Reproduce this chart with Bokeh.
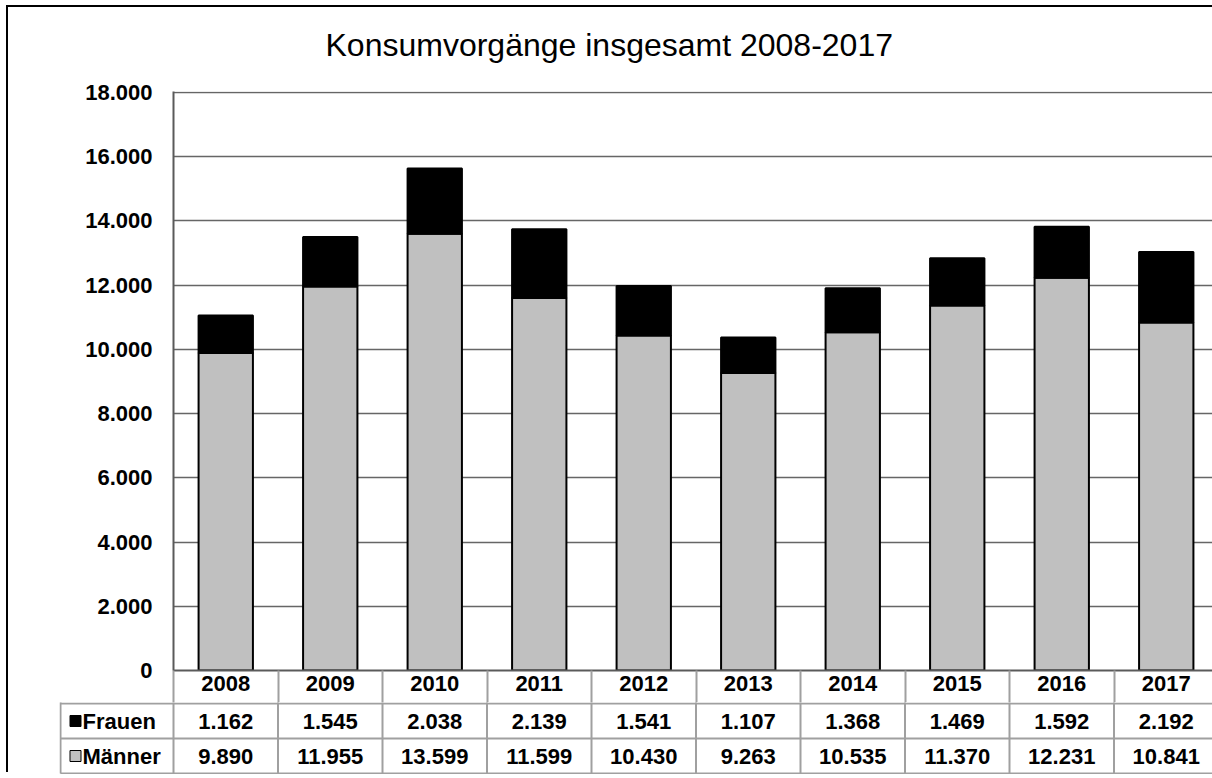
from bokeh.plotting import figure
from bokeh.models import Range1d, FixedTicker, ColumnDataSource
from bokeh.layouts import column
from bokeh.embed import file_html
from bokeh.resources import INLINE
from bokeh.core.properties import value

# ---------------- data ----------------
years = ["2008", "2009", "2010", "2011", "2012", "2013", "2014", "2015", "2016", "2017"]
frauen = [1162, 1545, 2038, 2139, 1541, 1107, 1368, 1469, 1592, 2192]
maenner = [9890, 11955, 13599, 11599, 10430, 9263, 10535, 11370, 12231, 10841]
y_ticks = [0, 2000, 4000, 6000, 8000, 10000, 12000, 14000, 16000, 18000]
y_tick_labels = ["0", "2.000", "4.000", "6.000", "8.000", "10.000", "12.000",
                 "14.000", "16.000", "18.000"]
row_labels = ["Frauen", "Männer"]
title_text = "Konsumvorgänge insgesamt 2008-2017"


def de_fmt(v):
    return f"{v:,}".replace(",", ".")


# ---------------- layout constants (content px, origin = inside chart border) ----------------
FONT = "Liberation Sans"
W = 1207            # content width (the chart continues past the window's right edge)
LEFT = 165          # plot frame left
TOP = 84            # plot frame top
PLOT_H = 579        # frame height (18000 span = 578 px)
HEAD_H = 32         # header (year) row height below the plot
COL_W = 104.5       # width of one category column in px
GRID_C = "#a0a0a0"
x_end = (W - LEFT) / COL_W
unit_per_px = 18000 / 578.0
n = len(years)

p = figure(width=W, height=TOP + PLOT_H + HEAD_H,
           x_range=Range1d(0, x_end),
           y_range=Range1d(0, 18000 + unit_per_px),
           output_backend="svg", toolbar_location=None,
           min_border_left=LEFT, min_border_top=TOP,
           min_border_right=0, min_border_bottom=HEAD_H)
p.frame_align = False
p.outline_line_color = None
p.background_fill_color = "white"
p.border_fill_color = None

p.title.text = title_text
p.title.text_font = FONT
p.title.text_font_size = "32px"
p.title.text_font_style = "normal"
p.title.text_color = "black"
p.title.align = "left"
p.title.offset = 325 - 8 - LEFT
p.title.standoff = 34
p.title.padding = (0, 0, 0, 12)

ax = p.yaxis[0]
ax.ticker = FixedTicker(ticks=y_ticks)
ax.major_label_overrides = {t: l for t, l in zip(y_ticks, y_tick_labels)}
ax.axis_line_color = "#5a5a5a"
ax.axis_line_width = 2
ax.major_tick_line_color = None
ax.minor_tick_line_color = None
ax.major_label_standoff = 15
ax.major_label_text_font = FONT
ax.major_label_text_font_size = "22px"
ax.major_label_text_font_style = "bold"
ax.major_label_text_color = "black"

# x axis = header row of the data table (years); minor ticks form the cell borders
xa = p.xaxis[0]
xs = [i + 0.5 for i in range(n)]
xa.ticker = FixedTicker(ticks=xs, minor_ticks=list(range(n)))
xa.major_label_overrides = {x: y for x, y in zip(xs, years)}
xa.axis_line_color = "#5a5a5a"
xa.axis_line_width = 2
xa.major_tick_line_color = None
xa.major_tick_out = 0
xa.major_tick_in = 0
xa.minor_tick_line_color = GRID_C
xa.minor_tick_line_width = 2
xa.minor_tick_out = HEAD_H
xa.minor_tick_in = 0
xa.major_label_standoff = 5 - HEAD_H
xa.major_label_text_font = FONT
xa.major_label_text_font_size = "22px"
xa.major_label_text_font_style = "bold"
xa.major_label_text_color = "black"

p.xgrid.grid_line_color = None
p.ygrid.grid_line_color = "#666666"
p.ygrid.grid_line_width = 1.5

src = ColumnDataSource(dict(x=xs, maenner=maenner, frauen=frauen))
p.vbar_stack(["maenner", "frauen"], x="x", width=0.52, source=src,
             fill_color=["#C0C0C0", "#000000"], line_color="black", line_width=2)

# ---------------- data rows of the table ----------------
TLEFT = 51
ROW_PX = 35.0
x_lab = -(LEFT - 52) / COL_W
t = figure(width=W, height=int(2 * ROW_PX + 2),
           x_range=Range1d(-(LEFT - TLEFT) / COL_W, x_end),
           y_range=Range1d(-1 / ROW_PX, 2 + 1 / ROW_PX),
           output_backend="svg", toolbar_location=None,
           min_border_left=TLEFT, min_border_top=0,
           min_border_right=0, min_border_bottom=0,
           x_axis_location=None, y_axis_location=None)
t.frame_align = False
t.outline_line_color = None
t.xgrid.visible = False
t.ygrid.visible = False
t.background_fill_color = "white"
t.border_fill_color = None

t.segment(x0=[x_lab] * 3, y0=[2, 1, 0], x1=[n + 1] * 3, y1=[2, 1, 0],
          line_color=GRID_C, line_width=2)
t.segment(x0=list(range(n + 1)), y0=[0] * (n + 1), x1=list(range(n + 1)), y1=[2.2] * (n + 1),
          line_color=GRID_C, line_width=2)
t.segment(x0=[x_lab], y0=[0], x1=[x_lab], y1=[2.2], line_color=GRID_C, line_width=2)

tsrc = ColumnDataSource(dict(
    x=xs * 2,
    y=[1.5] * n + [0.5] * n,
    txt=[de_fmt(v) for v in frauen] + [de_fmt(v) for v in maenner]))
t.text(x="x", y="y", text="txt", source=tsrc, text_align="center",
       text_baseline="middle", text_font=value(FONT), text_font_size="22px",
       text_font_style="bold", text_color="black")

t.scatter(x=[x_lab + 15 / COL_W] * 2, y=[1.5, 0.5], marker="square", size=11,
          fill_color=["#000000", "#C0C0C0"], line_color="black", line_width=1)
t.text(x=[x_lab + 22 / COL_W] * 2, y=[1.5, 0.5], text=row_labels,
       text_align="left", text_baseline="middle", text_font=value(FONT),
       text_font_size="22px", text_font_style="bold", text_color="black")

layout = column(p, t, spacing=0,
                styles={"margin-left": "8px", "margin-top": "7px",
                        "box-shadow": "-2px -2px 0 0 black"})

open("out.html", "w").write(file_html(layout, INLINE))
